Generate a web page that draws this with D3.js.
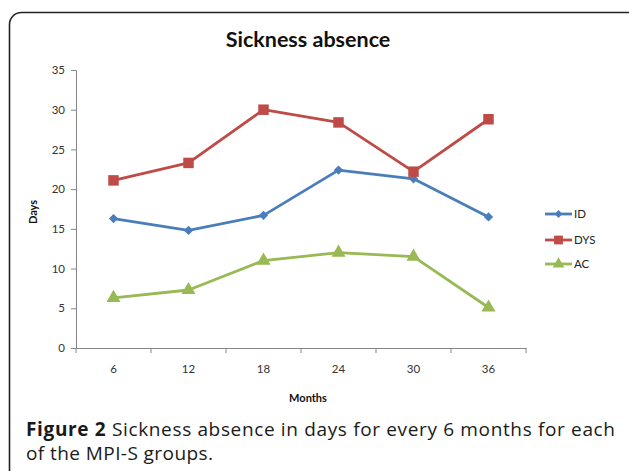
<!DOCTYPE html>
<html><head><meta charset="utf-8">
<script src="https://cdn.jsdelivr.net/npm/d3@7"></script>
<style>body{margin:0;background:#fff}svg{display:block}</style>
</head><body>
<script>
const months = ["6","12","18","24","30","36"];
const idValues = [16.3, 14.8, 16.7, 22.4, 21.3, 16.5];
const dysValues = [21.1, 23.3, 30.0, 28.4, 22.2, 28.8];
const acValues = [6.3, 7.3, 11.0, 12.0, 11.5, 5.1];
const yTicks = [0,5,10,15,20,25,30,35];
const seriesNames = ["ID","DYS","AC"];
const seriesColors = ["#4a7ebb","#be4b48","#98b954"];
const seriesSymbols = [d3.symbolDiamond2 || d3.symbolDiamond, d3.symbolSquare, d3.symbolTriangle];
const seriesData = [idValues, dysValues, acValues];

const W = 629, H = 471;
const svg = d3.select("body").append("svg").attr("width", W).attr("height", H);

svg.append("rect").attr("x", 9.5).attr("y", 12.5).attr("width", 640).attr("height", 480)
  .attr("rx", 12).attr("fill", "none").attr("stroke", "#222").attr("stroke-width", 1.6);

const x = d3.scaleBand().domain(months).range([76, 526]);
const y = d3.scaleLinear().domain([0, 35]).range([348, 70]);

svg.append("text").attr("x", 308).attr("y", 47).attr("text-anchor", "middle")
  .attr("font-family", "Lato, sans-serif").attr("font-weight", "bold").attr("font-size", 21.5)
  .attr("fill", "#111").text("Sickness absence");

const yAxis = svg.append("g").attr("transform", "translate(76,0)")
  .call(d3.axisLeft(y).tickValues(yTicks).tickSize(5).tickPadding(6));
const xAxis = svg.append("g").attr("transform", "translate(0,348)")
  .call(d3.axisBottom(x).tickSize(0).tickPadding(17));
svg.append("g").selectAll("line").data(d3.range(months.length + 1)).join("line")
  .attr("x1", i => 76 + i * x.step()).attr("x2", i => 76 + i * x.step())
  .attr("y1", 348).attr("y2", 353).attr("stroke", "#868686");

[yAxis, xAxis].forEach(g => {
  g.select(".domain").attr("stroke", "#868686");
  g.selectAll(".tick line").attr("stroke", "#868686");
  g.selectAll(".tick text").attr("font-family", "Lato, sans-serif").attr("font-size", 11.5).attr("fill", "#333");
});

svg.append("text").attr("transform", "translate(37,212) rotate(-90)").attr("text-anchor", "middle")
  .attr("font-family", "Lato, sans-serif").attr("font-weight", "bold").attr("font-size", 11)
  .attr("fill", "#111").text("Days");
svg.append("text").attr("x", 308).attr("y", 402).attr("text-anchor", "middle")
  .attr("font-family", "Lato, sans-serif").attr("font-weight", "bold").attr("font-size", 11)
  .attr("fill", "#111").text("Months");

const line = d3.line().x((d, i) => x(months[i]) + x.bandwidth() / 2).y(d => y(d));
const symSize = [55, 110, 85];
seriesData.forEach((vals, s) => {
  svg.append("path").datum(vals).attr("d", line).attr("fill", "none")
    .attr("stroke", seriesColors[s]).attr("stroke-width", 2.8).attr("stroke-linejoin", "round");
  svg.append("g").selectAll("path").data(vals).join("path")
    .attr("transform", (d, i) => `translate(${x(months[i]) + x.bandwidth() / 2},${y(d)})`)
    .attr("d", d3.symbol().type(seriesSymbols[s]).size(symSize[s]))
    .attr("fill", seriesColors[s]);
});

const legY = [214, 240, 264];
seriesNames.forEach((n, s) => {
  const g = svg.append("g");
  g.append("line").attr("x1", 545).attr("x2", 572).attr("y1", legY[s]).attr("y2", legY[s])
    .attr("stroke", seriesColors[s]).attr("stroke-width", 2.8);
  g.append("path").attr("transform", `translate(558.5,${legY[s]})`)
    .attr("d", d3.symbol().type(seriesSymbols[s]).size(symSize[s] * 0.7)).attr("fill", seriesColors[s]);
  g.append("text").attr("x", 574).attr("y", legY[s] + 4).attr("font-family", "Lato, sans-serif")
    .attr("font-size", 11.5).attr("fill", "#222").text(n);
});

const cap = svg.append("g").attr("font-family", "'Open Sans', sans-serif").attr("font-size", 19).attr("fill", "#1a1a1a");
const t1 = cap.append("text").attr("x", 26).attr("y", 436).attr("textLength", 589).attr("lengthAdjust", "spacing");
t1.append("tspan").attr("font-weight", "bold").text("Figure 2");
t1.append("tspan").text(" Sickness absence in days for every 6 months for each");
cap.append("text").attr("x", 26).attr("y", 460).attr("textLength", 187).attr("lengthAdjust", "spacing").text("of the MPI-S groups.");
</script>
</body></html>
